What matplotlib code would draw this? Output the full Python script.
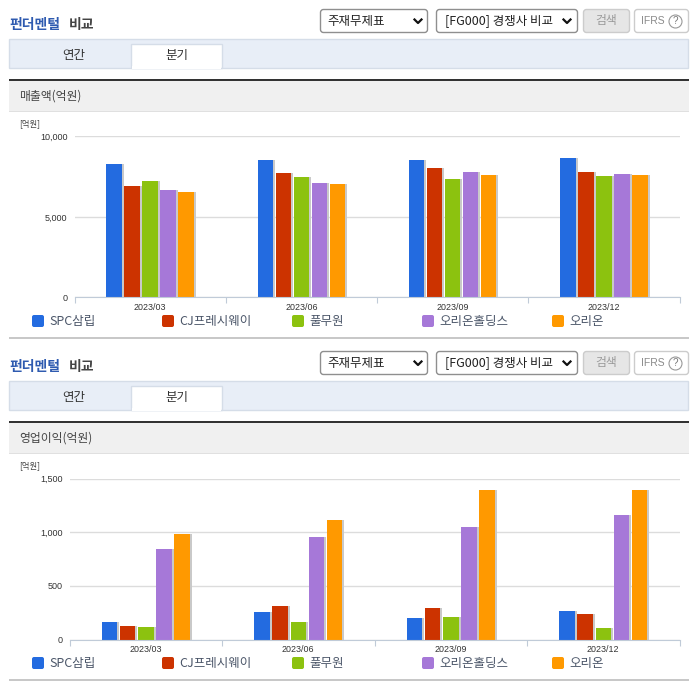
import matplotlib
matplotlib.use("Agg")
import matplotlib.pyplot as plt
import matplotlib.patheffects as pe
from matplotlib.patches import Rectangle, FancyBboxPatch, Circle
import numpy as np

plt.rcParams['font.family'] = ['Noto Sans CJK KR', 'DejaVu Sans']

quarters = ['2023/03', '2023/06', '2023/09', '2023/12']
companies = ['SPC삼립', 'CJ프레시웨이', '풀무원', '오리온홀딩스', '오리온']
colors = ['#236be0', '#cc3300', '#8cc20f', '#a678d8', '#ff9900']

# values in 억원, rows are companies
sales = [[8290, 8540, 8560, 8680],
         [6950, 7750, 8020, 7810],
         [7250, 7500, 7380, 7565],
         [6700, 7130, 7810, 7690],
         [6570, 7070, 7630, 7630]]
profit = [[165, 258, 202, 267],
          [127, 314, 295, 239],
          [118, 161, 211, 109],
          [845, 957, 1050, 1161],
          [985, 1115, 1394, 1394]]

sales_ticks = [0, 5000, 10000]
profit_ticks = [0, 500, 1000, 1500]

W, H = 696, 684
fig = plt.figure(figsize=(W / 100, H / 100), dpi=100)

# whole figure in pixels for the page chrome around the charts
ui = fig.add_axes([0, 0, 1, 1])
ui.set_xlim(0, W)
ui.set_ylim(H, 0)
ui.axis('off')


def box(x0, y0, x1, y1, face, edge='none', lw=1):
    ui.add_patch(Rectangle((x0, y0), x1 - x0, y1 - y0, facecolor=face, edgecolor=edge, linewidth=lw))


def rbox(x0, y0, x1, y1, face, edge):
    ui.add_patch(FancyBboxPatch((x0 + 3, y0 + 3), x1 - x0 - 6, y1 - y0 - 6,
                                boxstyle='round,pad=3,rounding_size=3',
                                facecolor=face, edgecolor=edge, linewidth=1))


def label(x, y, s, size, color='#333333', ha='left', **kw):
    ui.text(x, y, s, fontsize=size, color=color, ha=ha, va='center', **kw)


def section(dy, heading, values, ticks, x0, x1, y_top, y_base, step, width, label_x):
    # header
    label(9.5, 24.5 + dy, '펀더멘털', 10, color='#2f5bb0', fontweight='bold')
    label(69, 24.5 + dy, '비교', 10, color='#444444', fontweight='bold')
    rbox(320.5, 9.5 + dy, 427.5, 32.5 + dy, 'white', '#8f8f8f')
    label(327, 21 + dy, '주재무제표', 9, color='#222222')
    rbox(436.5, 9.5 + dy, 577.5, 32.5 + dy, 'white', '#8f8f8f')
    label(445, 21 + dy, '[FG000] 경쟁사 비교', 9, color='#222222')
    for ax_x in (418, 567):
        ui.plot([ax_x - 3.5, ax_x, ax_x + 3.5], [19.5 + dy, 23 + dy, 19.5 + dy], color='#111111', lw=1.6)
    rbox(583.5, 9.5 + dy, 629.5, 32.5 + dy, '#e6e6e6', '#cccccc')
    label(606.5, 20.5 + dy, '검색', 8.5, color='#9a9a9a', ha='center')
    rbox(634.5, 9.5 + dy, 688.5, 32.5 + dy, 'white', '#cccccc')
    label(641, 20.5 + dy, 'IFRS', 7.5, color='#8a8a8a', family='Liberation Sans')
    ui.add_patch(Circle((675.5, 21.5 + dy), 6.5, facecolor='white', edgecolor='#999999', linewidth=0.8))
    label(675.5, 21.5 + dy, '?', 7, color='#777777', ha='center', family='Liberation Sans')

    # tabs
    box(9, 39 + dy, 688, 68 + dy, '#e8eef7', '#d5dde8')
    box(131, 44 + dy, 222, 68 + dy, 'white', '#d5dde8')
    box(131.6, 66 + dy, 221.4, 69 + dy, 'white')
    label(74, 55.5 + dy, '연간', 9, ha='center')
    label(176.5, 55.5 + dy, '분기', 9, ha='center')

    # title band
    box(9, 79 + dy, 689, 111 + dy, '#f0f0f0')
    box(9, 110.5 + dy, 689, 111.5 + dy, '#e0e0e0')
    box(9, 79 + dy, 689, 81 + dy, '#333333')
    label(19, 96 + dy, heading, 8.5, color='#444444')
    label(19.5, 123.5 + dy, '[억원]', 6, color='#444444')

    # chart, real scales, placed by pixels
    ax = fig.add_axes([x0 / W, 1 - y_base / H, (x1 - x0) / W, (y_base - y_top) / H])
    ax.patch.set_alpha(0)
    n = len(quarters)
    slot = (x1 - x0) / n
    pos = np.arange(n)
    shadow = [pe.SimplePatchShadow(offset=(1.5, 0), shadow_rgbFace='#c9c9c9', alpha=1), pe.Normal()]
    for i, (vals, c) in enumerate(zip(values, colors)):
        ax.bar(pos + (i - 2) * step / slot, vals, width=width / slot, color=c, zorder=3, path_effects=shadow)
    ax.set_xlim(-0.5, n - 0.5)
    ax.set_ylim(ticks[0], ticks[-1])
    ax.set_yticks(ticks)
    ax.set_yticklabels([f'{t:,}' for t in ticks], fontsize=6.5, color='#333333', family='Liberation Sans')
    ax.tick_params(axis='y', length=0, pad=label_x)
    ax.set_xticks(pos)
    ax.set_xticklabels(quarters, fontsize=6.4, color='#333333', family='Liberation Sans')
    ax.tick_params(axis='x', which='major', length=0, pad=4)
    ax.set_xticks(np.arange(n + 1) - 0.5, minor=True)
    ax.tick_params(axis='x', which='minor', length=4, width=0.8, color='#c0cbd8')
    ax.grid(axis='y', color='#dcdcdc', lw=1, zorder=0)
    for s in ('top', 'left', 'right'):
        ax.spines[s].set_visible(False)
    ax.spines['bottom'].set_color('#c0cbd8')
    ax.spines['bottom'].set_zorder(4)

    # legend
    for i, (name, c) in enumerate(zip(companies, colors)):
        lx = 32 + i * 130
        ui.add_patch(FancyBboxPatch((lx + 1.5, 316.5 + dy), 9, 9, boxstyle='round,pad=1.5,rounding_size=2',
                                    facecolor=c, edgecolor='none'))
        label(lx + 17, 321 + dy, name, 9, color='#4a5568', fontweight='light')

    # bottom rule
    box(9, 337 + dy, 689, 339 + dy, '#c8c8c8')


section(0, '매출액(억원)', sales, sales_ticks, 74.5, 679.5, 136.5, 297.5, 18, 15.5, 5)
section(342, '영업이익(억원)', profit, profit_ticks, 69.5, 679.5, 478.5, 639.5, 18.2, 15.5, 5)

fig.savefig('out.png', dpi=100)
